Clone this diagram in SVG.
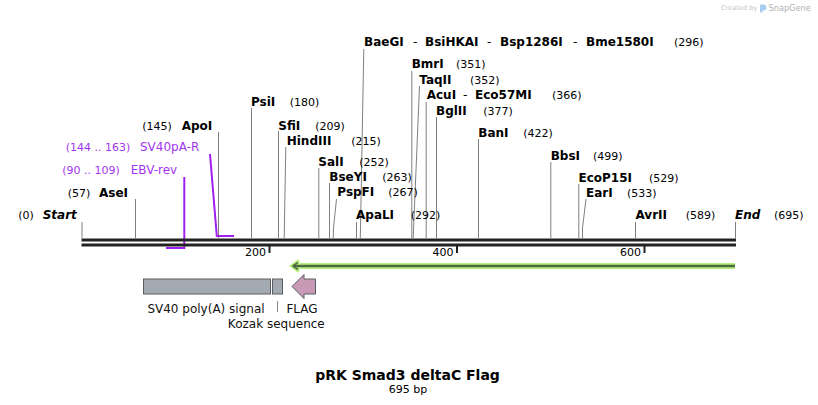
<svg xmlns="http://www.w3.org/2000/svg" width="818" height="405" viewBox="0 0 818 405">
<style>
text{font-family:"DejaVu Sans","Liberation Sans",sans-serif;fill:#000}
.n{font-size:12px;font-weight:bold}
.s{font-size:12px;font-weight:bold;font-style:italic}
.p{font-size:11px}
.d{font-size:12px}
.pr{fill:#a236ef}
.prl{stroke:#a020f0;stroke-width:2;fill:none}
.c{stroke:#808080;stroke-width:1;fill:none}
.f{font-size:12px;fill:#111}
.tk{font-size:11px}
</style>
<rect width="818" height="405" fill="#fff"/>

<g id="watermark">
<text x="721" y="10" style="font-size:6.6px;fill:#c4c4c4">Created by</text>
<path d="M760,4.5 h3.5 a3,3 0 0 1 0,6 h-1 v2 h-2.5 z" fill="#a9cdee"/>
<text x="768.5" y="11" style="font-size:8.2px;fill:#b0b0b0">SnapGene</text>
</g>

<g id="connectors">
<line class="c" x1="82" y1="222" x2="82" y2="238"/>
<line class="c" x1="135.5" y1="199" x2="135.5" y2="238"/>
<line class="c" x1="218.5" y1="132" x2="218.5" y2="238"/>
<line class="c" x1="251.5" y1="108" x2="251.5" y2="238"/>
<line class="c" x1="278.5" y1="131" x2="278.5" y2="238"/>
<polyline class="c" points="285.8,147 284.2,238"/>
<line class="c" x1="318.8" y1="168" x2="318.8" y2="238"/>
<line class="c" x1="329.5" y1="183" x2="329.5" y2="238"/>
<polyline class="c" points="336.5,199 333.5,228 333.2,238"/>
<line class="c" x1="356.5" y1="222" x2="356.5" y2="238"/>
<polyline class="c" points="363.8,49 360.3,238"/>
<line class="c" x1="411.8" y1="71" x2="411.8" y2="238"/>
<polyline class="c" points="419.5,86 413.2,238"/>
<line class="c" x1="426.2" y1="102" x2="426.2" y2="238"/>
<line class="c" x1="436.5" y1="117" x2="436.5" y2="238"/>
<line class="c" x1="478.5" y1="139" x2="478.5" y2="238"/>
<line class="c" x1="550.8" y1="162" x2="550.8" y2="238"/>
<line class="c" x1="578.8" y1="184" x2="578.8" y2="238"/>
<polyline class="c" points="586,199 582.5,228 582.5,238"/>
<line class="c" x1="635.5" y1="222" x2="635.5" y2="238"/>
<line class="c" x1="735.5" y1="222" x2="735.5" y2="238"/>
<polyline class="prl" points="210,154 216.8,236 234,236"/>
<polyline class="prl" points="184.3,177 184.3,248 166,248"/>
<line x1="277.5" y1="301" x2="277.5" y2="312" stroke="#888" stroke-width="1"/>
</g>

<g id="backbone">
<line x1="81.5" y1="240" x2="736" y2="240" stroke="#222" stroke-width="3"/>
<line x1="81.5" y1="245" x2="736" y2="245" stroke="#222" stroke-width="3"/>
<line x1="269.5" y1="246" x2="269.5" y2="253" stroke="#222" stroke-width="2"/>
<line x1="457" y1="246" x2="457" y2="253" stroke="#222" stroke-width="2"/>
<line x1="644.5" y1="246" x2="644.5" y2="253" stroke="#222" stroke-width="2"/>
<text class="tk" x="266" y="256" text-anchor="end">200</text>
<text class="tk" x="453.5" y="256" text-anchor="end">400</text>
<text class="tk" x="641" y="256" text-anchor="end">600</text>
</g>

<g id="start"><text class="p" x="18.3" y="219">(0)</text><text class="s" x="42.7" y="219">Start</text></g>
<g id="end"><text class="s" x="735" y="219">End</text><text class="p" x="774" y="219">(695)</text></g>
<g id="AseI"><text class="p" x="67.7" y="196.5">(57)</text><text class="n" x="99" y="196.5">AseI</text></g>
<g id="ApoI"><text class="p" x="142.3" y="129.5">(145)</text><text class="n" x="181.7" y="129.5">ApoI</text></g>
<g id="PsiI"><text class="n" x="251" y="106">PsiI</text><text class="p" x="289.7" y="106">(180)</text></g>
<g id="SfiI"><text class="n" x="278.3" y="129.5">SfiI</text><text class="p" x="315.3" y="129.5">(209)</text></g>
<g id="HindIII"><text class="n" x="286.7" y="144.5">HindIII</text><text class="p" x="351.3" y="144.5">(215)</text></g>
<g id="SalI"><text class="n" x="318.3" y="165.7">SalI</text><text class="p" x="359.3" y="165.7">(252)</text></g>
<g id="BseYI"><text class="n" x="329.3" y="181.3">BseYI</text><text class="p" x="382.3" y="181.3">(263)</text></g>
<g id="PspFI"><text class="n" x="337.3" y="196.3">PspFI</text><text class="p" x="388.3" y="196.3">(267)</text></g>
<g id="ApaLI"><text class="n" x="356" y="219">ApaLI</text><text class="p" x="410.7" y="219">(292)</text></g>
<g id="BaeGI"><text class="n" x="364" y="45.7">BaeGI</text><text class="d" x="413" y="45.7">-</text><text class="n" x="425" y="45.7">BsiHKAI</text><text class="d" x="487" y="45.7">-</text><text class="n" x="500" y="45.7">Bsp1286I</text><text class="d" x="573" y="45.7">-</text><text class="n" x="586" y="45.7">Bme1580I</text><text class="p" x="674" y="45.7">(296)</text></g>
<g id="BmrI"><text class="n" x="411.7" y="68">BmrI</text><text class="p" x="456" y="68">(351)</text></g>
<g id="TaqII"><text class="n" x="419.3" y="84">TaqII</text><text class="p" x="470" y="84">(352)</text></g>
<g id="AcuI"><text class="n" x="426.7" y="99">AcuI</text><text class="d" x="463" y="99">-</text><text class="n" x="475" y="99">Eco57MI</text><text class="p" x="552" y="99">(366)</text></g>
<g id="BglII"><text class="n" x="436" y="114.5">BglII</text><text class="p" x="483.3" y="114.5">(377)</text></g>
<g id="BanI"><text class="n" x="478.3" y="137">BanI</text><text class="p" x="523.3" y="137">(422)</text></g>
<g id="BbsI"><text class="n" x="550.7" y="159.5">BbsI</text><text class="p" x="593" y="159.5">(499)</text></g>
<g id="EcoP15I"><text class="n" x="578.5" y="181.5">EcoP15I</text><text class="p" x="649" y="181.5">(529)</text></g>
<g id="EarI"><text class="n" x="586" y="196.5">EarI</text><text class="p" x="627" y="196.5">(533)</text></g>
<g id="AvrII"><text class="n" x="635.5" y="219">AvrII</text><text class="p" x="685.7" y="219">(589)</text></g>

<g id="SV40pA-R"><text class="p pr" x="65.7" y="151">(144 .. 163)</text><text class="d pr" x="140" y="151">SV40pA-R</text></g>
<g id="EBV-rev"><text class="p pr" x="62.3" y="174">(90 .. 109)</text><text class="d pr" x="130.7" y="174">EBV-rev</text></g>

<g id="orf-arrow">
<path d="M735,266 H294" stroke="#b6f27f" stroke-width="6" fill="none"/>
<path d="M299,260.5 L291.5,266 L299,271.5" stroke="#b6f27f" stroke-width="3" fill="none"/>
<path d="M735,266 H293" stroke="#4f6a3c" stroke-width="2.5" fill="none"/>
<path d="M298,262.3 L293,266 L298,269.7" stroke="#4f6a3c" stroke-width="1.6" fill="none"/>
</g>

<g id="SV40-polyA">
<rect x="143.5" y="279" width="127" height="15" fill="#a3aab2" stroke="#5a5e63" stroke-width="1"/>
<text class="f" x="206" y="313" text-anchor="middle">SV40 poly(A) signal</text>
</g>
<g id="Kozak">
<rect x="272.5" y="279" width="10" height="15" fill="#a3aab2" stroke="#5a5e63" stroke-width="1"/>
<text class="f" x="276.3" y="327.5" text-anchor="middle">Kozak sequence</text>
</g>
<g id="FLAG">
<polygon points="292,286.5 304,274.5 304,279 315.5,279 315.5,294 304,294 304,298.5" fill="#c99ab5" stroke="#5a5e63" stroke-width="1"/>
<text class="f" x="302" y="313" text-anchor="middle">FLAG</text>
</g>

<g id="title">
<text x="407.5" y="380" text-anchor="middle" style="font-size:14px;font-weight:bold">pRK Smad3 deltaC Flag</text>
<text x="408" y="393" text-anchor="middle" style="font-size:11px">695 bp</text>
</g>
</svg>
